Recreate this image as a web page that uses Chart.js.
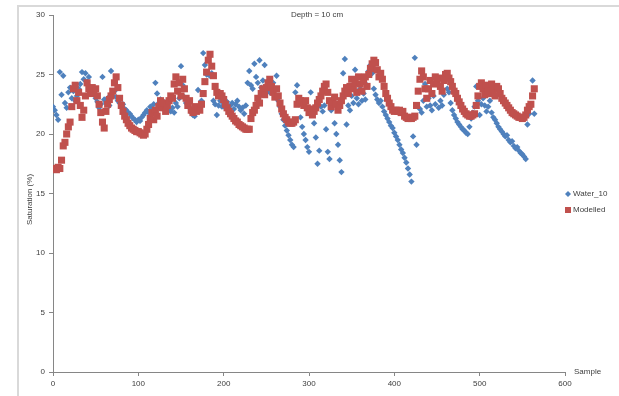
<!DOCTYPE html>
<html>
<head>
<meta charset="utf-8">
<title>Depth = 10 cm</title>
<script src="https://cdn.jsdelivr.net/npm/chart.js@4"></script>
<style>
  html, body { margin: 0; padding: 0; background: #fff; }
  #wrap { width: 619px; height: 396px; position: relative; }
</style>
</head>
<body>
<div id="wrap"><canvas id="satChart" width="619" height="396"></canvas></div>
<script>
// Soil saturation at 10 cm: measured vs modelled, one reading every 2nd sample

const sampleStep = 2;

const water10 = [
  22.3, 22.0, 21.6, 21.2, 25.2, 23.3, 24.9, 22.6, 22.2, 23.5,
  23.9, 23.0, 23.6, 22.8, 23.2, 23.8, 24.2, 25.2, 24.6, 25.1,
  24.4, 24.8, 23.9, 23.4, 23.6, 23.0, 22.7, 22.2, 22.5, 24.8,
  22.9, 22.6, 23.0, 22.4, 25.3, 23.2, 23.6, 23.1, 22.8, 22.6,
  22.3, 22.5, 22.1, 22.0, 21.8, 21.7, 21.5, 21.3, 21.2, 21.0,
  21.2, 21.1, 21.4, 21.6, 21.8, 22.0, 21.8, 22.3, 22.1, 22.5,
  24.3, 23.4, 22.6, 22.9, 22.3, 22.7, 22.5, 22.1, 22.0, 21.9,
  22.2, 21.8, 22.6, 22.3, 23.0, 25.7, 24.1, 23.1, 22.6, 22.4,
  22.2, 21.8, 21.6, 21.5, 22.0, 23.7, 22.4, 22.8, 26.8, 25.8,
  25.0, 25.0, 24.9, 25.1, 22.8, 22.5, 21.6, 22.4, 22.8, 22.3,
  22.6, 22.2, 22.7, 22.0, 22.4, 22.6, 22.1, 22.5, 22.8, 22.3,
  22.0, 22.2, 21.7, 22.4, 24.3, 25.3, 24.1, 23.8, 25.9, 24.8,
  24.3, 26.2, 23.9, 24.5, 25.8, 23.6, 24.2, 23.5, 23.8, 24.3,
  23.2, 24.9, 22.8, 22.3, 21.7, 21.2, 20.7, 20.3, 19.9, 19.5,
  19.1, 18.9, 23.5, 24.1, 22.5, 21.4, 20.6, 20.0, 19.5, 18.9,
  18.5, 23.5, 22.0, 20.9, 19.7, 17.5, 18.6, 22.3, 21.9, 22.4,
  20.4, 18.5, 17.9, 22.0, 22.5, 20.9, 20.0, 19.1, 17.8, 16.8,
  25.1, 26.3, 20.8, 22.4, 22.0, 23.2, 22.6, 25.4, 23.0, 22.5,
  23.8, 22.8, 23.4, 22.9, 24.1, 25.3, 25.8, 25.1, 23.8, 23.3,
  22.9, 22.6, 22.8, 22.3, 21.9, 21.6, 21.3, 21.0, 20.7, 20.5,
  20.1, 19.8, 19.5, 19.1, 18.7, 18.4, 18.0, 17.6, 17.1, 16.6,
  16.0, 19.8, 26.4, 19.1, 23.6, 22.1, 21.8, 22.8, 24.2, 22.3,
  23.0, 22.4, 22.0, 23.2, 22.5, 24.5, 22.2, 22.8, 22.4, 23.3,
  24.6, 23.8, 23.5, 22.6, 22.0, 21.6, 21.3, 21.0, 20.8, 20.6,
  20.4, 20.3, 20.1, 20.0, 20.6, 21.3, 21.8, 22.3, 24.0, 22.8,
  21.6, 22.5, 23.0, 22.4, 21.9, 22.3, 22.8, 21.8, 21.4, 21.2,
  20.9, 20.6, 20.4, 20.2, 20.0, 19.8, 19.9, 19.5, 19.3, 19.4,
  19.0, 18.8, 18.9, 18.6, 18.4, 18.3, 18.1, 17.9, 20.8, 21.7,
  22.4, 24.5, 21.7
];

const modelled = [
  17.1, 17.1, 17.0, 17.2, 17.1, 17.8, 19.0, 19.3, 20.0, 20.6,
  21.0, 22.3, 23.8, 24.1, 22.8, 23.5, 22.4, 21.4, 22.0, 23.2,
  24.3, 23.8, 23.4, 23.9, 23.5, 23.8, 23.2, 22.5, 21.8, 21.0,
  20.5, 21.9, 22.5, 22.9, 23.2, 23.6, 24.3, 24.8, 23.9, 23.0,
  22.4, 21.9, 21.5, 21.2, 20.9, 20.7, 20.5, 20.4, 20.3, 20.2,
  20.2, 20.1, 20.0, 19.9, 20.0, 20.4, 20.8, 21.3, 21.8, 21.2,
  22.0, 21.5, 22.3, 22.8, 22.2, 22.6, 21.9, 22.4, 22.8, 23.2,
  23.0, 24.2, 24.8, 23.6, 24.3, 23.2, 24.6, 23.8, 23.0, 22.4,
  22.8, 22.0, 21.8, 22.3, 21.9, 22.2, 22.0, 22.5, 23.4, 24.4,
  25.2, 26.2, 26.7, 25.7, 24.9, 24.0, 23.5, 23.2, 23.4, 23.2,
  22.9, 22.5, 22.2, 21.9, 21.7, 21.5, 21.3, 21.1, 21.0, 20.8,
  20.7, 20.6, 20.5, 20.4, 20.4, 20.4, 21.3, 21.8, 22.0, 22.4,
  23.0, 22.6, 23.4, 23.8, 23.3, 23.9, 24.3, 24.6, 24.0, 23.5,
  23.1, 23.8, 23.2, 22.6, 22.1, 21.7, 21.4, 21.2, 21.0, 20.9,
  20.9, 21.0, 21.2, 22.5, 23.0, 22.8, 22.6, 22.4, 22.8, 22.2,
  21.8, 22.1, 21.6, 21.9, 22.2, 22.6, 22.9, 23.2, 23.6, 24.0,
  24.2, 23.5, 22.8, 22.3, 22.7, 23.1, 22.5, 22.0, 22.4, 22.8,
  23.2, 23.6, 23.9, 23.4, 24.0, 24.6, 23.8, 24.3, 23.5, 24.8,
  24.2, 23.6, 24.4, 24.8, 24.0, 25.0, 25.5, 25.9, 26.2, 26.0,
  25.4, 24.8, 25.1, 24.6, 24.0, 23.4, 23.0, 22.6, 22.3, 22.0,
  21.9, 22.0, 21.9, 22.0, 21.8, 21.9, 21.5, 21.4, 21.3, 21.4,
  21.3, 21.4, 21.5, 22.4, 23.6, 24.6, 25.3, 24.8, 23.8, 23.0,
  23.8, 24.5, 23.4, 24.2, 24.8, 24.3, 24.7, 24.0, 23.6, 24.5,
  25.0, 25.1, 24.7, 24.4, 24.0, 23.6, 23.4, 23.0, 22.7, 22.4,
  22.1, 21.9, 21.7, 21.6, 21.5, 21.5, 21.6, 21.7, 22.4, 23.2,
  24.0, 24.3, 23.8, 23.3, 24.1, 23.6, 23.4, 24.2, 23.7, 23.2,
  24.0, 23.8, 23.4, 23.0, 22.8, 22.6, 22.4, 22.2, 22.0, 21.8,
  21.7, 21.6, 21.5, 21.4, 21.4, 21.3, 21.4, 21.6, 22.0, 22.3,
  22.5, 23.2, 23.8
];

const xTicks = [0, 100, 200, 300, 400, 500, 600];
const yTicks = [0, 5, 10, 15, 20, 25, 30];

const toPoints = vals => vals.map((v, i) => ({ x: i * sampleStep, y: v }));

const FONT = '"Liberation Sans", Arial, sans-serif';
const TEXT = '#404040';
const AXIS = '#868686';

// frame, title, axis labels and the legend are painted here
const decorations = {
  id: 'decorations',
  beforeDraw(chart) {
    const ctx = chart.ctx;
    ctx.save();
    ctx.strokeStyle = '#d9d9d9';
    ctx.lineWidth = 2;
    ctx.beginPath();
    ctx.moveTo(18, 396);
    ctx.lineTo(18, 6);
    ctx.lineTo(619, 6);
    ctx.stroke();
    ctx.restore();
  },
  afterDraw(chart) {
    const ctx = chart.ctx;
    const area = chart.chartArea;
    ctx.save();
    ctx.fillStyle = TEXT;
    ctx.font = '8px ' + FONT;
    ctx.textBaseline = 'middle';

    ctx.textAlign = 'center';
    ctx.fillText('Depth = 10 cm', 317, 15);

    ctx.textAlign = 'left';
    ctx.fillText('Sample', area.right + 9, area.bottom);

    ctx.save();
    ctx.translate(30, (area.top + area.bottom) / 2 + 6);
    ctx.rotate(-Math.PI / 2);
    ctx.textAlign = 'center';
    ctx.fillText('Saturation (%)', 0, 0);
    ctx.restore();

    // legend
    const ds = chart.data.datasets;
    const lx = 568;
    ds.forEach((d, i) => {
      const ly = 194 + i * 16;
      ctx.fillStyle = d.backgroundColor;
      ctx.beginPath();
      if (d.pointStyle === 'rectRot') {
        ctx.moveTo(lx, ly - 3);
        ctx.lineTo(lx + 3, ly);
        ctx.lineTo(lx, ly + 3);
        ctx.lineTo(lx - 3, ly);
        ctx.closePath();
      } else {
        ctx.rect(lx - 3, ly - 3, 6, 6);
      }
      ctx.fill();
      ctx.fillStyle = TEXT;
      ctx.textAlign = 'left';
      ctx.fillText(d.label, lx + 5, ly);
    });
    ctx.restore();
  }
};

new Chart(document.getElementById('satChart'), {
  type: 'scatter',
  data: {
    datasets: [{
      label: 'Water_10',
      data: toPoints(water10),
      pointStyle: 'rectRot',
      pointRadius: 3.2,
      backgroundColor: '#4F81BD',
      borderColor: '#4F81BD',
      borderWidth: 0,
      order: 1
    }, {
      label: 'Modelled',
      data: toPoints(modelled),
      pointStyle: 'rect',
      pointRadius: 5,
      backgroundColor: '#C0504D',
      borderColor: '#C0504D',
      borderWidth: 0,
      order: 0
    }]
  },
  plugins: [decorations],
  options: {
    responsive: false,
    animation: false,
    layout: { padding: { left: 0, top: 15, right: 54, bottom: 0 } },
    plugins: {
      legend: { display: false },
      tooltip: { enabled: false }
    },
    scales: {
      x: {
        type: 'linear',
        min: 0,
        max: 600,
        afterFit: s => { s.height = 24; },
        afterBuildTicks: s => { s.ticks = xTicks.map(v => ({ value: v })); },
        border: { display: true, color: AXIS, width: 1 },
        grid: { drawOnChartArea: false, drawTicks: true, tickLength: 4, color: AXIS },
        ticks: { color: TEXT, font: { family: FONT, size: 8 }, padding: 3, maxRotation: 0 }
      },
      y: {
        min: 0,
        max: 30,
        afterFit: s => { s.width = 53; },
        afterBuildTicks: s => { s.ticks = yTicks.map(v => ({ value: v })); },
        border: { display: true, color: AXIS, width: 1 },
        grid: { drawOnChartArea: false, drawTicks: true, tickLength: 4, color: AXIS },
        ticks: { color: TEXT, font: { family: FONT, size: 8 }, padding: 4 }
      }
    }
  }
});
</script>
</body>
</html>
